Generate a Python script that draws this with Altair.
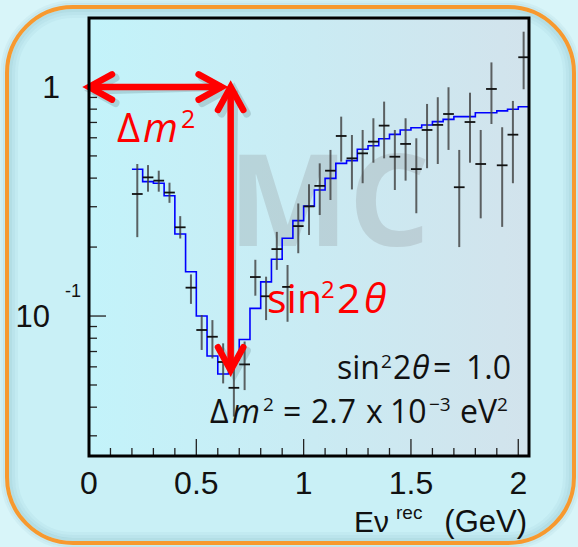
import altair as alt
import pandas as pd

# ---- measured spectrum: reconstructed neutrino energy (GeV), rate and error band ----
energy = [0.225, 0.275, 0.325, 0.375, 0.425, 0.475, 0.525, 0.575, 0.625, 0.675,
          0.725, 0.775, 0.825, 0.875, 0.925, 0.975, 1.025, 1.075, 1.125, 1.175,
          1.225, 1.275, 1.325, 1.375, 1.425, 1.475, 1.525, 1.575, 1.625, 1.675,
          1.725, 1.775, 1.825, 1.875, 1.925, 1.975, 2.025]
rate = [0.341, 0.403, 0.390, 0.346, 0.244, 0.133, 0.0869, 0.0812, 0.063, 0.0486,
        0.0615, 0.148, 0.122, 0.196, 0.134, 0.247, 0.301, 0.370, 0.431, 0.611,
        0.488, 0.513, 0.577, 0.678, 0.496, 0.564, 0.438, 0.649, 0.683, 0.762,
        0.365, 0.703, 0.461, 0.980, 0.455, 0.619, 1.348]
rate_lo = [0.221, 0.349, 0.349, 0.312, 0.218, 0.113, 0.0711, 0.0653, 0.0508, 0.0364,
           0.0475, 0.1227, 0.096, 0.159, 0.0944, 0.188, 0.226, 0.276, 0.321, 0.472,
           0.357, 0.380, 0.467, 0.488, 0.355, 0.390, 0.281, 0.442, 0.461, 0.531,
           0.200, 0.467, 0.267, 0.689, 0.245, 0.380, 0.977]
rate_hi = [0.461, 0.456, 0.431, 0.382, 0.273, 0.152, 0.101, 0.096, 0.076, 0.060,
           0.0774, 0.176, 0.1485, 0.233, 0.167, 0.310, 0.376, 0.464, 0.531, 0.742,
           0.617, 0.649, 0.730, 0.863, 0.649, 0.730, 0.597, 0.843, 0.902, 0.997,
           0.531, 0.944, 0.649, 1.28, 0.667, 0.869, 1.743]

# ---- MC expectation histogram: lower bin edges (GeV) and bin contents ----
mc_edge = [0.20, 0.25, 0.30, 0.35, 0.40, 0.45, 0.50, 0.55, 0.60, 0.65,
           0.70, 0.75, 0.80, 0.85, 0.90, 0.95, 1.00, 1.05, 1.10, 1.15,
           1.20, 1.25, 1.30, 1.35, 1.40, 1.45, 1.50, 1.55, 1.60, 1.65,
           1.70, 1.75, 1.80, 1.85, 1.90, 1.95, 2.00, 2.05, 2.10]
mc_rate = [0.437, 0.386, 0.380, 0.335, 0.228, 0.156, 0.100, 0.0669, 0.0558, 0.0644,
           0.0790, 0.108, 0.141, 0.177, 0.2185, 0.261, 0.302, 0.355, 0.399, 0.464,
           0.477, 0.535, 0.554, 0.594, 0.621, 0.649, 0.664, 0.682, 0.706, 0.722,
           0.742, 0.742, 0.772, 0.772, 0.786, 0.799, 0.820, 0.993]

# ---- axis ticks and labels ----
x_major = [0, 0.5, 1, 1.5, 2]
x_labels = ["0", "0.5", "1", "1.5", "2"]
x_minor = [0.1, 0.2, 0.3, 0.4, 0.6, 0.7, 0.8, 0.9, 1.1, 1.2, 1.3, 1.4,
           1.6, 1.7, 1.8, 1.9]
y_major = [0.1, 1.0]
y_minor = [0.03, 0.04, 0.05, 0.06, 0.07, 0.08, 0.09,
           0.2, 0.3, 0.4, 0.5, 0.6, 0.7, 0.8, 0.9]

# ---- oscillation-parameter arrows (energy of the dip, depth of the dip) ----
dip_energy = 0.618
dip_x = 0.66
dip_depth = 0.058

W, H = 440, 438
L, T = 89, 18

x_scale = alt.Scale(domain=[0, 2.05], nice=False, zero=False)
y_scale = alt.Scale(type="log", domain=[0.02449, 2.0], nice=False)


def X(f):
    return alt.X(f, type="quantitative", scale=x_scale, axis=None)


def Y(f):
    return alt.Y(f, type="quantitative", scale=y_scale, axis=None)


points = pd.DataFrame({"e": energy, "r": rate, "lo": rate_lo, "hi": rate_hi})
mc = pd.DataFrame({"e": mc_edge, "r": mc_rate + [mc_rate[-1]]})
one = pd.DataFrame({"k": [0]})


def px_rect(x0, x1, y0, y1, **kw):
    return alt.Chart(one).mark_rect(**kw).encode(
        x=alt.value(x0 - L), x2=alt.value(x1 - L),
        y=alt.value(y0 - T), y2=alt.value(y1 - T))


def txt(s, x, y, size, color="#111111", font="Open Sans", italic=False,
        align="left", weight="normal", opacity=1):
    kw = dict(text=s, fontSize=size, color=color, font=font, align=align,
              baseline="alphabetic", fontWeight=weight, opacity=opacity)
    if italic:
        kw["fontStyle"] = "italic"
    return alt.Chart(one).mark_text(**kw).encode(
        x=alt.value(x - L), y=alt.value(y - T))


layers = []

# slide panel with soft shading and the orange rounded border
layers.append(px_rect(7, 574, 7, 543, cornerRadius=66, fill="#c9f0f6", strokeWidth=0))
for inset, op in [(-5, 0.07), (-2.5, 0.12), (3.5, 0.20), (6.5, 0.12), (9.5, 0.06)]:
    layers.append(px_rect(7 + inset, 574 - inset, 7 + inset, 543 - inset,
                          cornerRadius=66 - inset, filled=False, color="#5d98a4",
                          strokeWidth=3, opacity=op))
layers.append(px_rect(7, 574, 7, 543, cornerRadius=66, filled=False,
                      color="#f7992f", strokeWidth=4, opacity=1))

# plot area background
grad = alt.LinearGradient(
    gradient="linear", x1=0, y1=0, x2=1, y2=0,
    stops=[alt.GradientStop(color="#c3f3fa", offset=0),
           alt.GradientStop(color="#c9ecf4", offset=0.45),
           alt.GradientStop(color="#d2e3ec", offset=1)])
layers.append(px_rect(L, L + W, T, T + H, fill=grad, strokeWidth=0))

# watermark
layers.append(txt("MC", 329, 246, 128, color="#959b9e", weight="bold",
                  align="center", opacity=0.3))

# inward ticks
layers.append(alt.Chart(pd.DataFrame({"v": y_minor})).mark_rule(
    color="#222222", strokeWidth=1.3).encode(y=Y("v"), x=alt.value(0), x2=alt.value(8)))
layers.append(alt.Chart(pd.DataFrame({"v": y_major})).mark_rule(
    color="#222222", strokeWidth=1.3).encode(y=Y("v"), x=alt.value(0), x2=alt.value(17)))
layers.append(alt.Chart(pd.DataFrame({"v": x_minor})).mark_rule(
    color="#222222", strokeWidth=1.3).encode(x=X("v"), y=alt.value(H), y2=alt.value(H - 8)))
layers.append(alt.Chart(pd.DataFrame({"v": x_major})).mark_rule(
    color="#222222", strokeWidth=1.3).encode(x=X("v"), y=alt.value(H), y2=alt.value(H - 17)))

# MC histogram
layers.append(alt.Chart(mc).mark_line(
    interpolate="step-after", color="#0000ff", strokeWidth=1.6, clip=True).encode(
    x=X("e"), y=Y("r")))

# data points with error bars
layers.append(alt.Chart(points).mark_rule(
    color="#3d3d3d", strokeWidth=2, opacity=0.8).encode(
    x=X("e"), y=Y("lo"), y2=alt.Y2("hi")))
layers.append(alt.Chart(points).transform_calculate(
    a="datum.e - 0.025", b="datum.e + 0.025").mark_rule(
    color="#111111", strokeWidth=1.8).encode(x=X("a"), x2=alt.X2("b"), y=Y("r")))

# oscillation parameters (black), set piece by piece
black_pieces = [
    ("sin", 337, 378.5, 32, False), ("2", 381, 368, 19, False),
    ("2", 393, 378.5, 32, False), ("θ", 412, 378.5, 32, True),
    ("=", 433, 378.5, 32, False), ("1.0", 466, 378.5, 32, False),
    ("Δ", 210, 422.5, 32, False), ("m", 232, 422.5, 32, True),
    ("2", 263, 411, 19, False), ("=", 283, 422.5, 32, False),
    ("2.7", 311, 422.5, 32, False), ("x", 366, 422.5, 32, False),
    ("10", 390, 422.5, 32, False), ("−3", 429, 411, 19, False),
    ("eV", 460, 422.5, 32, False), ("2", 497, 411, 19, False),
]
for s, x, y, fs, it in black_pieces:
    layers.append(txt(s, x, y, fs, italic=it))

# arrows
shafts = pd.DataFrame({"e0": [0.0, dip_x], "e1": [dip_energy, dip_x],
                       "r0": [1.0, 1.0], "r1": [1.0, dip_depth]})
heads = pd.DataFrame({"e": [0.0, dip_energy, dip_x, dip_x],
                      "r": [1.0, 1.0, 1.0, dip_depth],
                      "a": [180, 0, 270, 90]})
chev = "M -1 -0.55 L 0 0 L -1 0.55"
for col, op, sw, off in [("#2f4a50", 0.18, 8, 3.5), ("#ff0000", 1.0, 6.5, 0)]:
    layers.append(alt.Chart(shafts).mark_rule(
        color=col, opacity=op, strokeWidth=sw, xOffset=off, yOffset=off).encode(
        x=X("e0"), x2=alt.X2("e1"), y=Y("r0"), y2=alt.Y2("r1")))
    layers.append(alt.Chart(heads).mark_point(
        shape=chev, size=2116, filled=False, color=col, opacity=op,
        strokeWidth=sw, strokeJoin="miter", strokeCap="round",
        xOffset=off, yOffset=off).encode(
        x=X("e"), y=Y("r"), angle=alt.Angle("a:Q", scale=None)))

# red labels for the two parameters
red_pieces = [
    ("Δ", 117, 142, 40, False), ("m", 143, 142, 40, True), ("2", 181, 128, 25, False),
    ("sin", 267, 313, 41, False), ("2", 321, 298, 24, False),
    ("2", 337, 313, 41, False), ("θ", 364, 313, 41, True),
]
for s, x, y, fs, it in red_pieces:
    layers.append(txt(s, x, y, fs, color="#ff0000", italic=it))

# frame
layers.append(px_rect(L, L + W, T, T + H, filled=False, color="#000000",
                      strokeWidth=3, opacity=1))

# tick labels
layers.append(alt.Chart(pd.DataFrame({"v": x_major, "t": x_labels})).mark_text(
    font="Liberation Sans", fontSize=32, baseline="alphabetic", color="#111111").encode(
    x=X("v"), y=alt.value(494 - T), text="t:N"))
layers.append(alt.Chart(one).mark_text(
    text="1", font="Liberation Sans", fontSize=32, align="right", baseline="alphabetic",
    dy=11.5, color="#111111").encode(x=alt.value(60 - L), y=alt.datum(1.0)))
layers.append(alt.Chart(one).mark_text(
    text="10", font="Liberation Sans", fontSize=31, align="right", baseline="alphabetic",
    dy=11, color="#111111").encode(x=alt.value(50 - L), y=alt.datum(0.1)))
layers.append(alt.Chart(one).mark_text(
    text="-1", font="Liberation Sans", fontSize=18, align="left", baseline="alphabetic",
    dy=-19, color="#111111").encode(x=alt.value(65 - L), y=alt.datum(0.1)))

# axis title
layers.append(txt("Eν", 354, 532, 30, font="Liberation Sans"))
layers.append(txt("rec", 396, 519, 19, font="Liberation Sans"))
layers.append(txt("(GeV)", 527, 532, 31, font="Liberation Sans", align="right"))

chart = alt.layer(*layers).properties(
    width=W, height=H, background="#d8f5f9",
    padding={"left": L, "top": T, "right": 578 - L - W, "bottom": 547 - T - H},
    autosize=alt.AutoSizeParams(type="none"),
).configure_view(strokeWidth=0)

chart.save("out.html", embed_options={"renderer": "svg", "actions": False})
